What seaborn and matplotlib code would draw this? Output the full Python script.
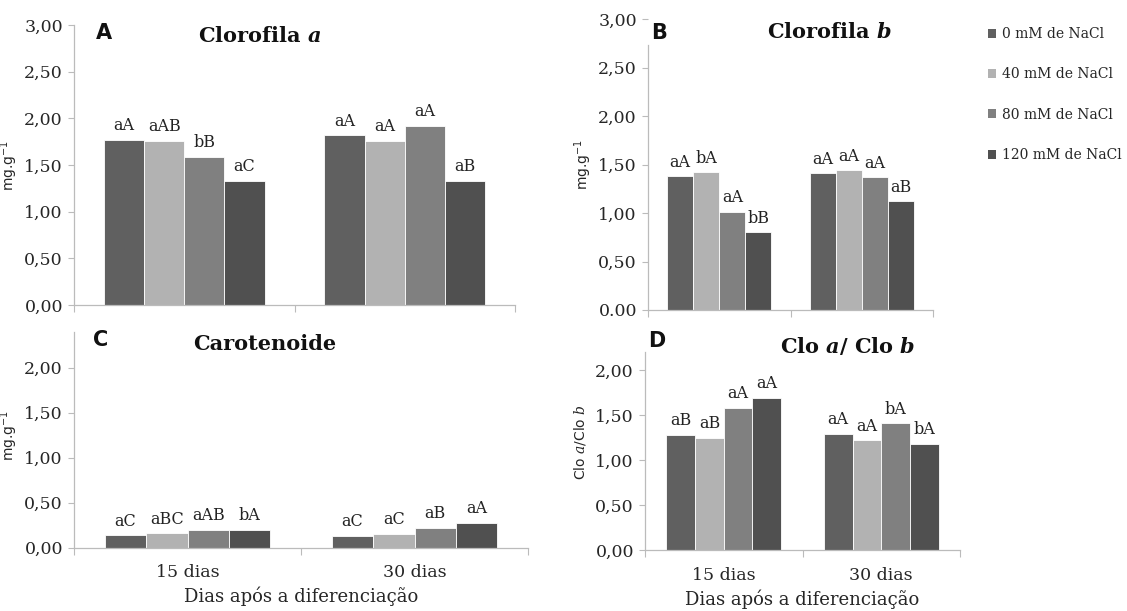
import matplotlib
matplotlib.use("Agg")
import matplotlib.pyplot as plt
from matplotlib.patches import Patch
import seaborn as sns
import pandas as pd

# ---------------- data ----------------
dias = ["15 dias", "30 dias"]
tratamentos = ["0 mM de NaCl", "40 mM de NaCl", "80 mM de NaCl", "120 mM de NaCl"]
cores = ["#606060", "#B2B2B2", "#808080", "#505050"]

# values per day (15 dias, 30 dias), per treatment
clor_a_15 = [1.77, 1.76, 1.59, 1.33]
clor_a_30 = [1.82, 1.76, 1.92, 1.33]
clor_b_15 = [1.38, 1.42, 1.01, 0.80]
clor_b_30 = [1.41, 1.44, 1.37, 1.12]
carot_15 = [0.14, 0.16, 0.20, 0.20]
carot_30 = [0.13, 0.155, 0.22, 0.28]
razao_15 = [1.28, 1.25, 1.58, 1.69]
razao_30 = [1.29, 1.22, 1.41, 1.18]

# significance letters
let_a_15 = ["aA", "aAB", "bB", "aC"]
let_a_30 = ["aA", "aA", "aA", "aB"]
let_b_15 = ["aA", "bA", "aA", "bB"]
let_b_30 = ["aA", "aA", "aA", "aB"]
let_c_15 = ["aC", "aBC", "aAB", "bA"]
let_c_30 = ["aC", "aC", "aB", "aA"]
let_d_15 = ["aB", "aB", "aA", "aA"]
let_d_30 = ["aA", "aA", "bA", "bA"]

# axis ticks
ticks_ab = [0, 0.5, 1.0, 1.5, 2.0, 2.5, 3.0]
ticklab_a = ["0,00", "0,50", "1,00", "1,50", "2,00", "2,50", "3,00"]
ticklab_b = ["0.00", "0,50", "1,00", "1,50", "2,00", "2,50", "3,00"]
ticks_cd = [0, 0.5, 1.0, 1.5, 2.0]
ticklab_cd = ["0,00", "0,50", "1,00", "1,50", "2,00"]

# ---------------- style ----------------
sns.set_style("white")
plt.rcParams["font.family"] = ["DejaVu Serif"]
plt.rcParams["mathtext.fontset"] = "dejavuserif"

W, H = 1127, 611
fig = plt.figure(figsize=(W / 100, H / 100), dpi=100)


def px_axes(left, right, top, bottom):
    return fig.add_axes([left / W, 1 - bottom / H, (right - left) / W, (bottom - top) / H])


def make_df(v15, v30):
    rows = []
    for d, vals in zip(dias, [v15, v30]):
        for t, v in zip(tratamentos, vals):
            rows.append({"dia": d, "trat": t, "valor": v})
    return pd.DataFrame(rows)


SPINE = "#BBBBBB"


def panel(ax, v15, v30, l15, l30, ylim, ticks, ticklabels, letter, title,
          letter_pos, title_pos, ylabel, ylabel_pos, show_x, spine_top=None):
    df = make_df(v15, v30)
    sns.barplot(data=df, x="dia", y="valor", hue="trat", hue_order=tratamentos,
                order=dias, palette=cores, width=0.73, ax=ax, legend=False,
                edgecolor="white", linewidth=0.6, saturation=1, errorbar=None)
    for i, cont in enumerate(ax.containers):
        ax.bar_label(cont, labels=[l15[i], l30[i]], padding=4, fontsize=11.5,
                     color="#222222")
    ax.set_xlim(-0.5, 1.5)
    ax.set_ylim(*ylim)
    ax.set_yticks(ticks)
    ax.set_yticklabels(ticklabels, fontsize=12.5)
    ax.tick_params(axis="y", length=4, width=0.8, color=SPINE, pad=4, left=True)
    ax.set_xticks([-0.5, 0.5, 1.5], minor=True)
    ax.tick_params(axis="x", which="minor", length=5, width=0.8, color=SPINE,
                   bottom=True, direction="out")
    ax.tick_params(axis="x", which="major", length=0, pad=12)
    ax.set_xticks([0, 1])
    if show_x:
        ax.set_xticklabels(dias, fontsize=12.5)
        ax.set_xlabel("Dias após a diferenciação", fontsize=13, labelpad=4)
    else:
        ax.set_xticklabels([])
        ax.set_xlabel("")
    ax.set_ylabel(ylabel, fontsize=10, family="DejaVu Sans")
    ax.yaxis.set_label_coords(*ylabel_pos)
    for s in ["top", "right"]:
        ax.spines[s].set_visible(False)
    for s in ["left", "bottom"]:
        ax.spines[s].set_color(SPINE)
        ax.spines[s].set_linewidth(0.9)
    if spine_top is not None:
        ax.spines["left"].set_bounds(0, spine_top)
    ax.text(*letter_pos, letter, transform=ax.transAxes, ha="center", va="center",
            fontsize=15, fontweight="bold", family="DejaVu Sans", color="#111111")
    ax.text(*title_pos, title, transform=ax.transAxes, ha="center", va="center",
            fontsize=15, fontweight="bold", color="#111111")


axA = px_axes(74, 515, 25, 305)
axB = px_axes(648, 933, 19, 310)
axC = px_axes(74, 528, 331.7, 547.7)
axD = px_axes(645, 960, 352, 550)

ylab_mg = r"mg.g$^{\mathsf{-1}}$"
panel(axA, clor_a_15, clor_a_30, let_a_15, let_a_30, (0, 3.0), ticks_ab, ticklab_a,
      "A", r"Clorofila $\mathbfit{a}$", (0.067, 0.97), (0.42, 0.96), ylab_mg,
      (-0.122, 0.5), False)
panel(axB, clor_b_15, clor_b_30, let_b_15, let_b_30, (0, 3.0), ticks_ab, ticklab_b,
      "B", r"Clorofila $\mathbfit{b}$", (0.04, 0.953), (0.635, 0.955), ylab_mg,
      (-0.189, 0.5), False, spine_top=2.73)
panel(axC, carot_15, carot_30, let_c_15, let_c_30, (0, 2.4), ticks_cd, ticklab_cd,
      "C", "Carotenoide", (0.058, 0.96), (0.42, 0.945), ylab_mg,
      (-0.119, 0.52), True)
panel(axD, razao_15, razao_30, let_d_15, let_d_30, (0, 2.2), ticks_cd, ticklab_cd,
      "D", r"Clo $\mathbfit{a}$/ Clo $\mathbfit{b}$", (0.037, 1.055), (0.645, 1.03),
      r"Clo $\mathsf{\it{a}}$/Clo $\mathsf{\it{b}}$", (-0.181, 0.545), True)

# legend
handles = [Patch(facecolor=c, edgecolor="none", label=t) for c, t in zip(cores, tratamentos)]
fig.legend(handles=handles, loc="upper left", bbox_to_anchor=(988 / W, 1 - 27 / H),
           frameon=False, fontsize=10, handlelength=0.6, handleheight=0.6,
           handletextpad=0.4, labelspacing=1.9, borderpad=0, borderaxespad=0)

fig.savefig("out.png", dpi=100)
